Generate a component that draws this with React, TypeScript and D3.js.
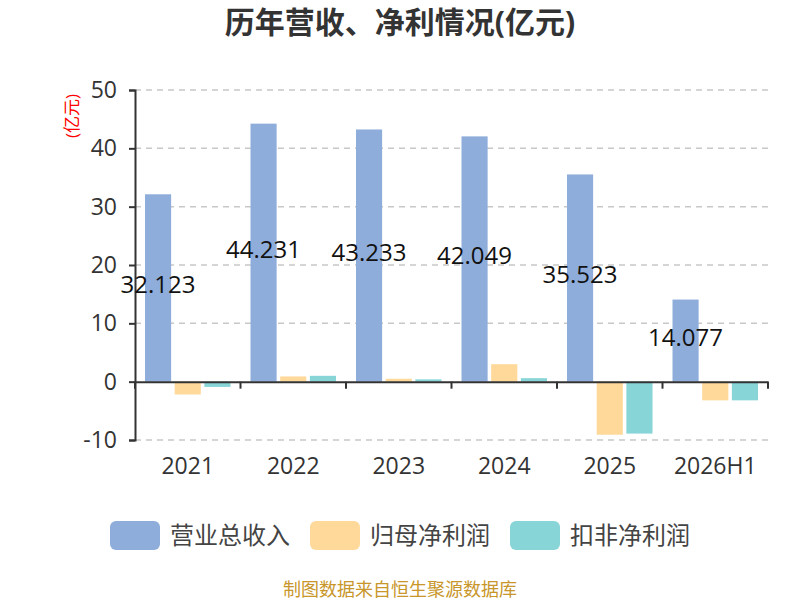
import { useEffect, useRef } from "react";
import * as d3 from "d3";

const years = ["2021", "2022", "2023", "2024", "2025", "2026H1"];
const seriesNames = ["营业总收入", "归母净利润", "扣非净利润"];
const revenue = [32.123, 44.231, 43.233, 42.049, 35.523, 14.077];
const netProfit = [-2.2, 0.9, 0.5, 3.0, -9.1, -3.2];
const deductedProfit = [-0.9, 1.0, 0.4, 0.6, -8.9, -3.2];
const yTicks = [-10, 0, 10, 20, 30, 40, 50];
const colors = ["#8eaddb", "#ffd99a", "#88d5d8"];

const FONT = "'Open Sans', 'Noto Sans CJK SC', sans-serif";

const App = () => {
  const ref = useRef<SVGSVGElement | null>(null);
  const width = 800;
  const height = 600;

  useEffect(() => {
    if (!ref.current) return;
    const svg = d3.select(ref.current);
    svg.selectAll("*").remove();

    const left = 135;
    const right = 768;
    const values = [revenue, netProfit, deductedProfit];

    const x = d3.scaleBand<string>().domain(years).range([left, right]);
    const xs = d3
      .scaleBand<string>()
      .domain(seriesNames)
      .range([10, x.bandwidth() - 10])
      .paddingInner(0.12);
    const y = d3.scaleLinear().domain([-10, 50]).range([440, 90]);

    // title
    svg
      .append("text")
      .attr("x", width / 2)
      .attr("y", 33)
      .attr("text-anchor", "middle")
      .attr("font-family", FONT)
      .attr("font-weight", "bold")
      .attr("font-size", 30)
      .attr("fill", "#333")
      .text("历年营收、净利情况(亿元)");

    // grid
    svg
      .append("g")
      .selectAll("line")
      .data(yTicks.filter((t) => t !== 0))
      .enter()
      .append("line")
      .attr("x1", left)
      .attr("x2", right)
      .attr("y1", (d) => y(d))
      .attr("y2", (d) => y(d))
      .attr("stroke", "#c8c8c8")
      .attr("stroke-width", 1.5)
      .attr("stroke-dasharray", "6,5");

    // y axis
    const yAxis = svg
      .append("g")
      .attr("transform", `translate(${left},0)`)
      .call(d3.axisLeft(y).tickValues(yTicks).tickSize(6).tickPadding(12).tickFormat((d) => String(d)));
    yAxis.select(".domain").attr("stroke", "#333").attr("stroke-width", 2);
    yAxis.selectAll(".tick line").attr("stroke", "#333").attr("stroke-width", 2);
    yAxis
      .selectAll(".tick text")
      .attr("font-family", FONT)
      .attr("font-size", 23)
      .attr("fill", "#333");

    svg
      .append("text")
      .attr("transform", `translate(78,116) rotate(-90)`)
      .attr("text-anchor", "middle")
      .attr("font-family", FONT)
      .attr("font-size", 17)
      .attr("fill", "red")
      .text("(亿元)");

    // bars
    seriesNames.forEach((name, si) => {
      svg
        .append("g")
        .selectAll("rect")
        .data(values[si])
        .enter()
        .append("rect")
        .attr("x", (_, i) => (x(years[i]) ?? 0) + (xs(name) ?? 0))
        .attr("width", xs.bandwidth())
        .attr("y", (d) => y(Math.max(0, d)))
        .attr("height", (d) => Math.abs(y(d) - y(0)))
        .attr("fill", colors[si]);
    });

    // x axis
    const xAxis = svg
      .append("g")
      .attr("transform", `translate(0,${y(0)})`)
      .call(d3.axisBottom(x).tickSize(0).tickSizeOuter(0));
    xAxis.select(".domain").attr("stroke", "#333").attr("stroke-width", 2);
    xAxis.selectAll(".tick text").remove();
    svg
      .append("g")
      .selectAll("line")
      .data(d3.range(years.length + 1))
      .enter()
      .append("line")
      .attr("x1", (i) => left + i * x.step())
      .attr("x2", (i) => left + i * x.step())
      .attr("y1", y(0))
      .attr("y2", y(0) + 7)
      .attr("stroke", "#333")
      .attr("stroke-width", 2);
    svg
      .append("g")
      .selectAll("text")
      .data(years)
      .enter()
      .append("text")
      .attr("x", (d) => (x(d) ?? 0) + x.bandwidth() / 2)
      .attr("y", 474)
      .attr("text-anchor", "middle")
      .attr("font-family", FONT)
      .attr("font-size", 23)
      .attr("fill", "#333")
      .text((d) => d);

    // value labels
    svg
      .append("g")
      .selectAll("text")
      .data(revenue)
      .enter()
      .append("text")
      .attr("x", (_, i) => (x(years[i]) ?? 0) + (xs(seriesNames[0]) ?? 0) + xs.bandwidth() / 2)
      .attr("y", (d) => (y(d) + y(0)) / 2 - 3)
      .attr("dy", "0.35em")
      .attr("text-anchor", "middle")
      .attr("font-family", FONT)
      .attr("font-size", 24)
      .attr("fill", "#111")
      .text((d) => d3.format(".3f")(d));

    // legend
    const legendX = [110, 310, 510];
    const lg = svg
      .append("g")
      .selectAll("g")
      .data(seriesNames)
      .enter()
      .append("g")
      .attr("transform", (_, i) => `translate(${legendX[i]},521)`);
    lg.append("rect")
      .attr("width", 50)
      .attr("height", 29)
      .attr("rx", 6)
      .attr("fill", (_, i) => colors[i]);
    lg.append("text")
      .attr("x", 60)
      .attr("y", 15)
      .attr("dy", "0.35em")
      .attr("font-family", FONT)
      .attr("font-size", 24)
      .attr("fill", "#444")
      .text((d) => d);

    // footer
    svg
      .append("text")
      .attr("x", width / 2)
      .attr("y", 590)
      .attr("dy", "0.35em")
      .attr("text-anchor", "middle")
      .attr("font-family", FONT)
      .attr("font-size", 18)
      .attr("fill", "#c8962a")
      .text("制图数据来自恒生聚源数据库");
  }, []);

  return (
    <svg
      ref={ref}
      width={width}
      height={height}
      viewBox={`0 0 ${width} ${height}`}
      style={{ display: "block", position: "absolute", left: 0, top: 0, background: "#fff" }}
    />
  );
};

export default App;
